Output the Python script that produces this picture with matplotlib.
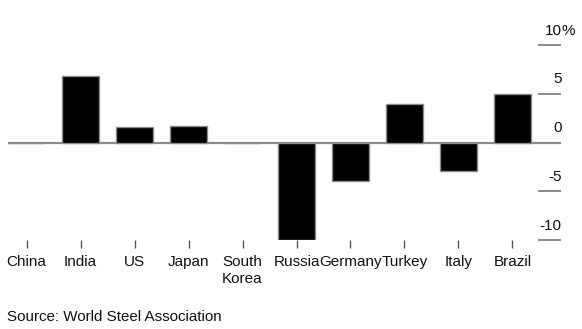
import matplotlib
matplotlib.use("Agg")
import matplotlib.pyplot as plt
from matplotlib.transforms import blended_transform_factory, offset_copy

plt.rcParams['font.family'] = ['Liberation Sans', 'DejaVu Sans']

categories = ["China", "India", "US", "Japan", "South\nKorea", "Russia",
              "Germany", "Turkey", "Italy", "Brazil"]
values = [-0.1, 6.8, 1.6, 1.7, -0.1, -10.0, -3.9, 4.0, -2.9, 5.0]
ytick_values = [10, 5, 0, -5, -10]
ytick_labels = ["10", "5", "0", "-5", "-10"]
source = "Source: World Steel Association"

W, H = 582, 329
fig = plt.figure(figsize=(W / 100, H / 100), dpi=100)
ax = fig.add_axes([8 / W, (H - 240) / H, 552 / W, 195 / H])

x = list(range(len(categories)))
ax.axhline(0, color="#8a8a8a", lw=1.6, zorder=1)
ax.bar(x, values, width=0.68, color="black", edgecolor="#8a8a8a",
       linewidth=1.0, zorder=2)

ax.set_xlim(-0.343, 9.88)
ax.set_ylim(-10, 10)

for s in ax.spines.values():
    s.set_visible(False)
ax.set_yticks([])
ax.set_xticks(x)
ax.set_xticklabels(categories, fontsize=11, linespacing=1.35)
ax.tick_params(axis="x", length=6, width=1.0, color="#555555", pad=4.5,
               labelcolor="#111111")

trans = blended_transform_factory(ax.transAxes, ax.transData)
for v, lab in zip(ytick_values, ytick_labels):
    ax.plot([0.962, 1.0], [v, v], transform=trans, color="#8a8a8a",
            lw=1.4, clip_on=False, zorder=1)
    t = offset_copy(trans, fig=fig, x=1, y=7.5, units="points")
    ax.text(1.0, v, lab, transform=t, ha="right", va="baseline",
            fontsize=11, color="#111111")
    if v == 10:
        ax.text(1.0, v, "%", transform=t, ha="left", va="baseline",
                fontsize=11, color="#111111")

fig.text(7 / W, 1 - 321 / H, source, ha="left", va="baseline",
         fontsize=10.9, color="#111111")

fig.savefig("out.png", dpi=100)
